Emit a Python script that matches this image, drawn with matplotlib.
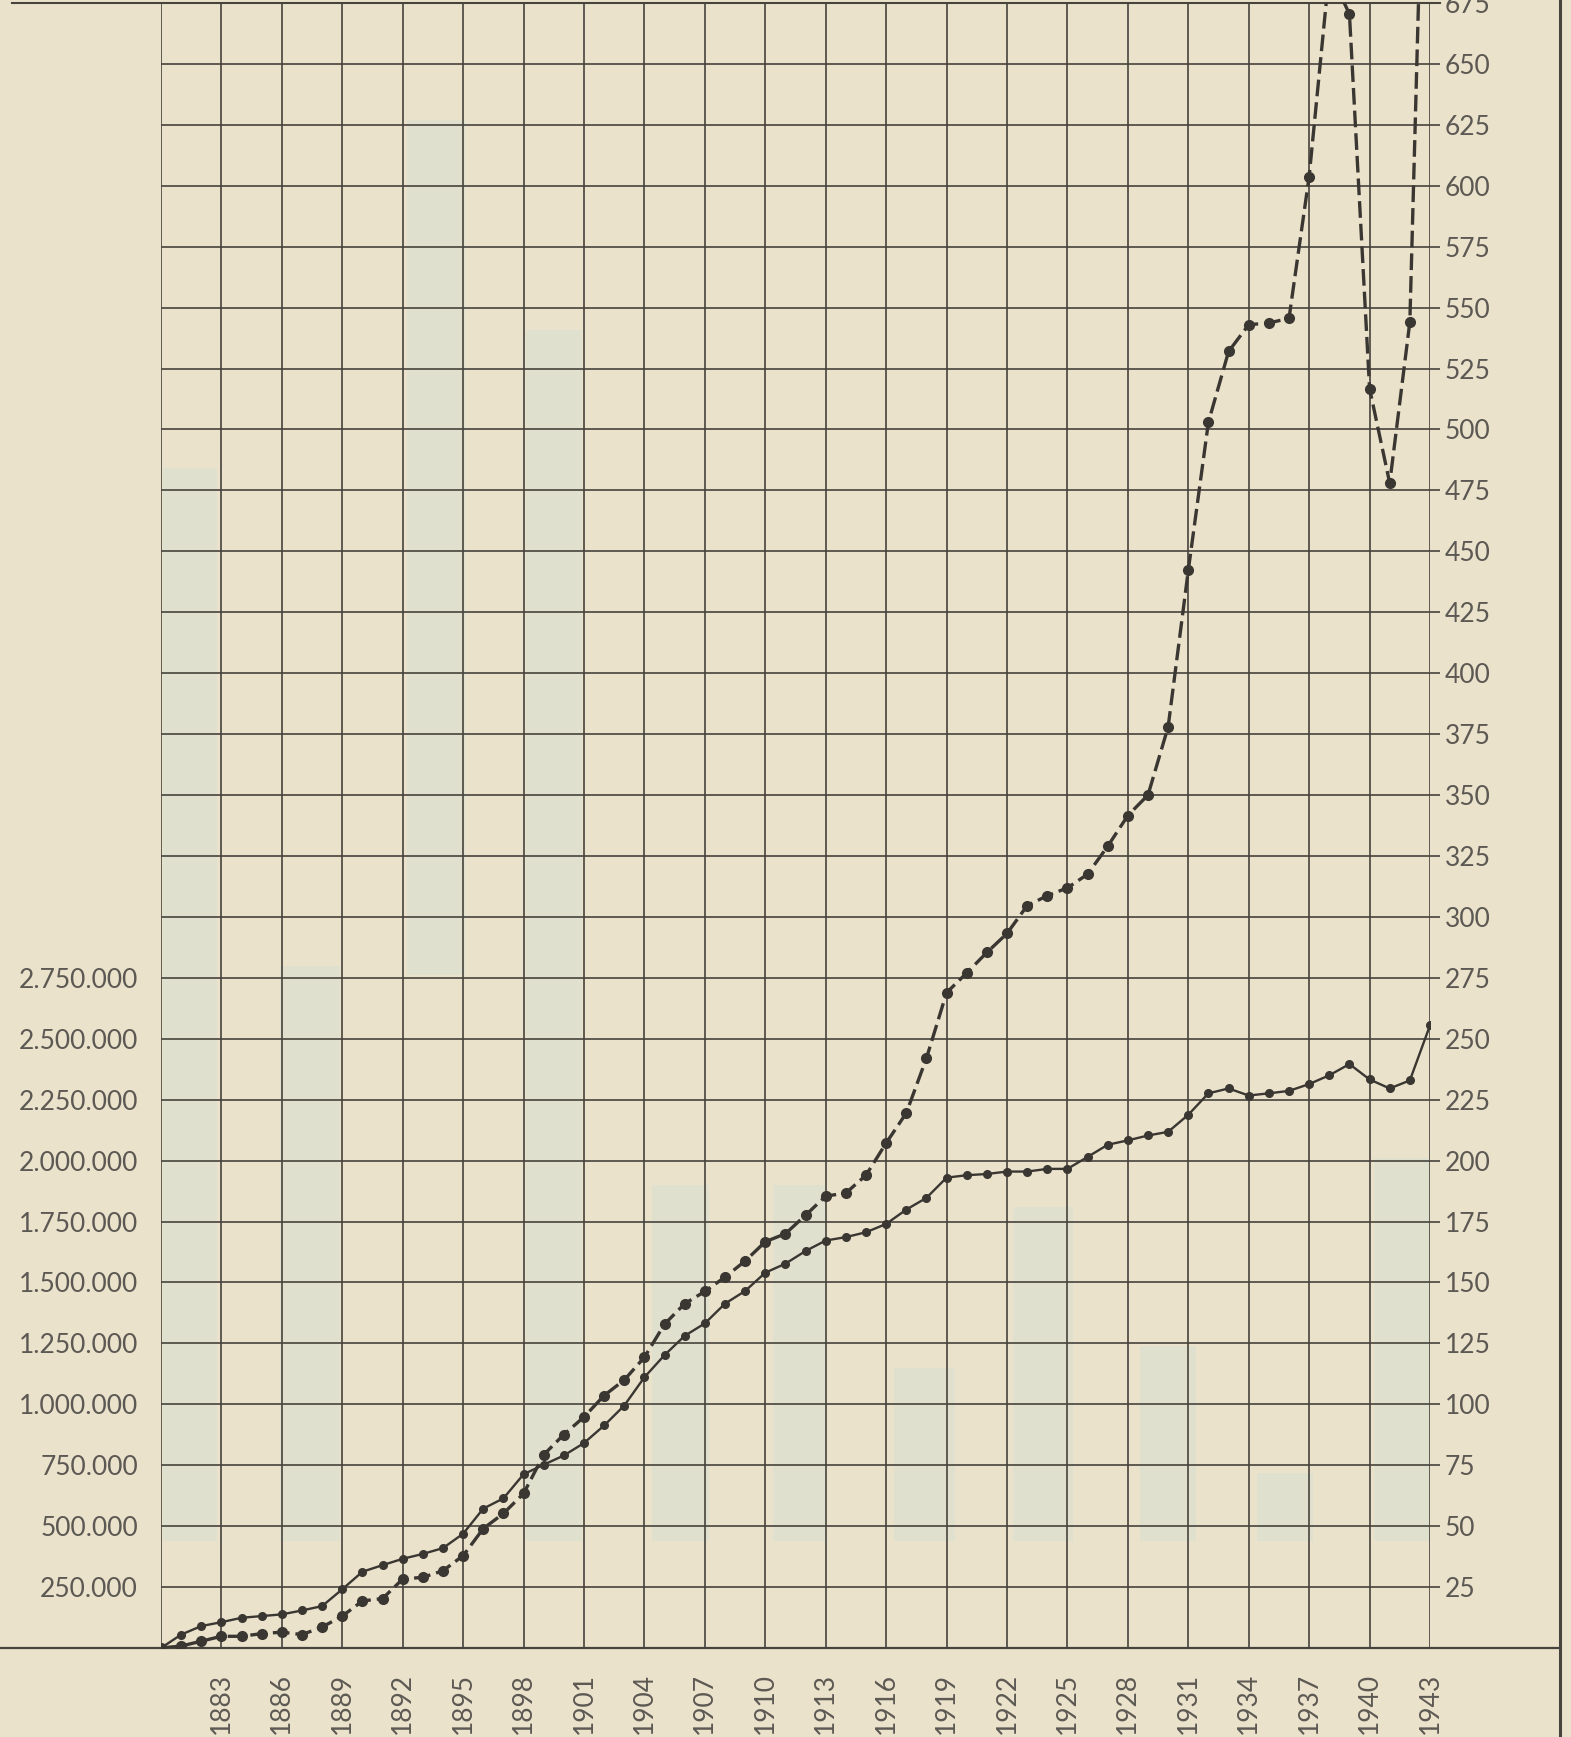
import matplotlib.pyplot as plt

# years 1880-1943, one point per year
years = list(range(1880, 1944))

# solid line (left scale: x10.000 of the right scale)
solid_vals = [0, 5.5, 9, 10.6, 12.4, 13.1, 13.8, 15.4, 17.2, 24.1,
              31.3, 34, 36.6, 38.6, 41, 46.9, 57.2, 61.4, 71.3, 75.2,
              79, 84.1, 91.3, 99.5, 111.1, 120.2, 128.1, 133.2, 141.3, 146.5,
              154, 157.7, 162.9, 167.2, 168.6, 170.6, 174, 179.9, 184.7, 193,
              194, 194.5, 195.5, 195.5, 196.6, 196.6, 201.5, 206.5, 208.3, 210.3,
              211.8, 218.8, 227.6, 229.6, 226.7, 227.6, 228.6, 231.4, 235, 239.6,
              233.3, 229.6, 232.9, 255.5]

# dashed line (right scale)
dashed_vals = [0, 0.8, 2.8, 4.8, 4.8, 5.9, 6.5, 5.5, 8.6, 13.1,
               19.3, 20.3, 28.3, 29, 31.7, 37.9, 49, 55.2, 63.4, 79.3,
               87.6, 94.8, 103.6, 110, 119.3, 132.9, 141.3, 146.3, 152.2, 158.8,
               166.7, 170, 177.6, 185.4, 186.7, 194, 207.2, 219.5, 242, 268.9,
               277, 285.4, 293.2, 304.6, 308.7, 311.9, 317.5, 329, 341.6, 350,
               378, 442.2, 503, 532, 543, 543.7, 545.6, 603.8, 688, 670.5,
               516.8, 478, 544.2, 850]

right_ticks = list(range(25, 700, 25))
left_ticks = list(range(25, 300, 25))
left_labels = [f"{v * 10000:,}".replace(",", ".") for v in left_ticks]
year_ticks = list(range(1883, 1944, 3))

# faint bars showing through from the back of the sheet
band_left = [1880.1, 1885.9, 1892.2, 1898.1, 1904.4, 1910.4, 1916.4, 1922.3, 1928.6, 1934.4, 1940.2]
band_right = [1882.8, 1888.9, 1895.1, 1900.9, 1907.2, 1913.0, 1919.4, 1925.3, 1931.4, 1937.2, 1943.0]
band_top = [484, 280, 627, 541, 190, 190, 115, 181, 124, 72, 201]
band_bottom = [44, 44, 276, 44, 44, 44, 44, 44, 44, 44, 44]

paper = "#ebe2cb"
ink = "#3a3632"
grid_c = "#47433d"
text_c = "#5c5853"

W, H = 1571, 1737
fig = plt.figure(figsize=(W / 100, H / 100), dpi=100)
fig.patch.set_facecolor(paper)

ax = fig.add_axes([161 / W, 1 - 1648 / H, (1430 - 161) / W, (1648 - 3) / H])
ax.set_facecolor(paper)
ax.set_xlim(1880, 1943)
ax.set_ylim(0, 675)
for s in ax.spines.values():
    s.set_visible(False)

ax.bar(band_left, [t - b for t, b in zip(band_top, band_bottom)],
       width=[r - l for l, r in zip(band_left, band_right)],
       bottom=band_bottom, align="edge", color="#d8e0d2", alpha=0.55,
       zorder=0, linewidth=0)

# grid
ax.hlines(right_ticks, 1880, 1943, color=grid_c, lw=1.2, zorder=1)
ax.vlines([1880] + year_ticks, 0, 675, color=grid_c, lw=1.2, zorder=1)
ax.axhline(675, xmin=-149 / 1269, xmax=1.008, color=grid_c, lw=1.5, clip_on=False)
ax.axhline(0, xmin=-161 / 1269, xmax=(1560 - 161) / 1269, color=grid_c, lw=1.6, clip_on=False)
fig.add_artist(plt.Line2D([1560 / W, 1560 / W], [0, 1], color=grid_c, lw=2.2))

# data
ax.plot(years, solid_vals, color=ink, lw=1.7, marker="o", ms=5.5, zorder=5)
ax.plot(years, dashed_vals, color=ink, lw=2.4, ls=(0, (5, 1.8)),
        marker="o", ms=7, zorder=5)

font = dict(family=["Lato", "DejaVu Sans"], size=19, color=text_c)

ax.set_yticks(left_ticks, left_labels)
ax.tick_params(axis="y", length=0, pad=16.5)
ax.set_xticks(year_ticks, [str(y) for y in year_ticks], rotation=90)
ax.tick_params(axis="x", length=0, pad=18)
for lab in ax.get_xticklabels() + ax.get_yticklabels():
    lab.set(**font)

ax2 = ax.twinx()
ax2.set_ylim(0, 675)
for s in ax2.spines.values():
    s.set_visible(False)
ax2.set_yticks(right_ticks, [str(v) for v in right_ticks])
ax2.tick_params(axis="y", length=7.5, width=1.2, color=grid_c, pad=3)
for lab in ax2.get_yticklabels():
    lab.set(**font)

fig.savefig("out.png", dpi=100, facecolor=paper)
